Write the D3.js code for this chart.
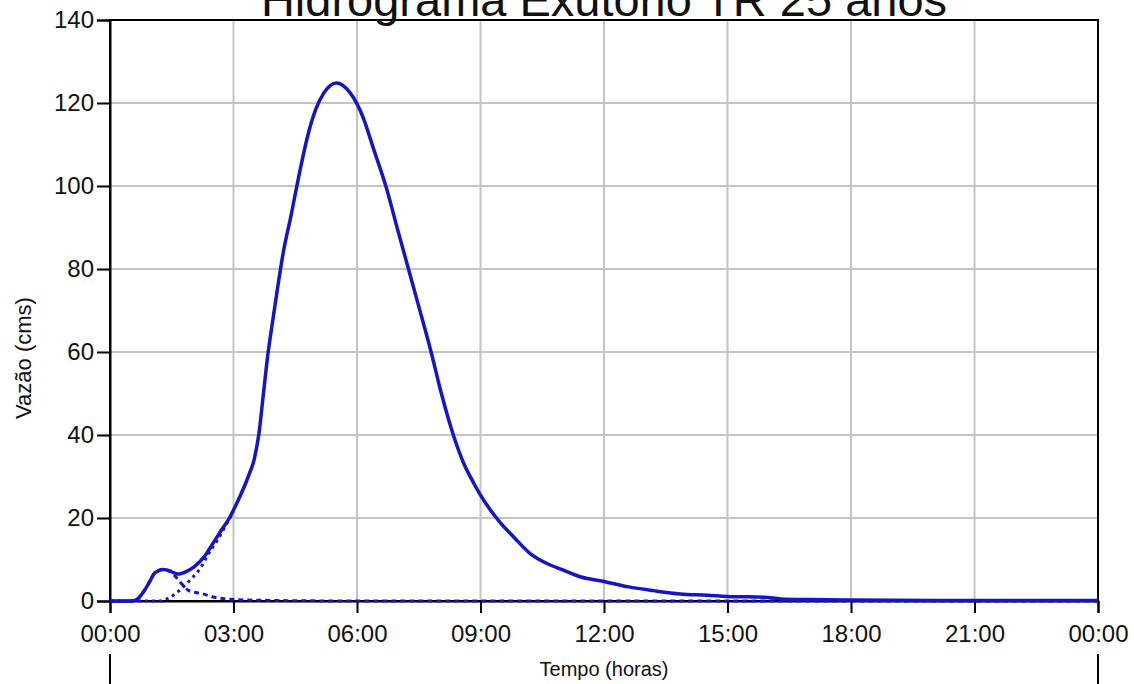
<!DOCTYPE html>
<html>
<head>
<meta charset="utf-8">
<script src="https://cdn.jsdelivr.net/npm/d3@7"></script>
<style>
  html, body { margin: 0; padding: 0; background: #fff; }
  svg { display: block; font-family: "Liberation Sans", Arial, sans-serif; }
</style>
</head>
<body>
<div id="chart"></div>
<script>
// Hidrograma do exutório, TR 25 anos (horas desde 00:00, vazão em cms)
const mainHours = [0, 0.5, 0.64, 0.84, 0.96, 1.08, 1.18, 1.28, 1.38, 1.49, 1.65, 1.85, 2.05, 2.29, 2.54, 2.7, 2.9, 3.1, 3.3, 3.39, 3.5, 3.55, 3.62, 3.71, 3.84, 3.96, 4.08, 4.2, 4.4, 4.6, 4.8, 5.0, 5.2, 5.35, 5.5, 5.65, 5.83, 6.0, 6.15, 6.4, 6.7, 7.0, 7.25, 7.5, 7.8, 8.05, 8.34, 8.6, 8.83, 9.0, 9.25, 9.47, 9.8, 10.2, 10.6, 11.0, 11.4, 12.0, 12.6, 13.2, 13.85, 14.5, 15.0, 15.9, 16.3, 17, 18, 20, 22, 24];
const mainFlow = [0, 0, 0.3, 2.6, 4.6, 6.7, 7.3, 7.6, 7.5, 7.1, 6.5, 7.1, 8.3, 10.7, 14.5, 17, 20, 24, 28.5, 30.8, 34, 36.4, 40.5, 48.4, 59.8, 68, 76, 83.5, 93, 103, 112, 118.5, 122.5, 124.2, 124.8, 124.3, 122.5, 119.8, 116.5, 109, 100, 89, 80, 71, 60, 50, 40, 33, 28.5, 25.5, 21.8, 19, 15.5, 11.5, 9.1, 7.5, 5.9, 4.7, 3.4, 2.5, 1.7, 1.4, 1.1, 0.9, 0.5, 0.35, 0.25, 0.15, 0.12, 0.1];

// sub-bacia de resposta rápida (pequeno pico inicial)
const sub1Hours = [0, 0.5, 0.64, 0.84, 0.96, 1.08, 1.18, 1.28, 1.38, 1.5, 1.6, 1.7, 1.8, 1.9, 2.05, 2.22, 2.54, 2.94, 3.5, 6, 24];
const sub1Flow = [0, 0, 0.3, 2.6, 4.6, 6.7, 7.3, 7.6, 7.4, 6.8, 5.8, 4.6, 3.5, 2.6, 2.1, 1.8, 0.9, 0.4, 0.2, 0, 0];

// sub-bacia principal (trecho inicial, depois coincide com o hidrograma total)
const sub2Hours = [0, 1.2, 1.4, 1.6, 1.8, 2.0, 2.2, 2.4, 2.6, 2.8, 3.0];
const sub2Flow = [0, 0, 0.6, 1.8, 3.6, 5.6, 8, 11.5, 14.5, 18, 21.5];

const xTicks = [0, 3, 6, 9, 12, 15, 18, 21, 24];
const yTicks = [0, 20, 40, 60, 80, 100, 120, 140];

const W = 1134, H = 684;
const margin = { top: 20, right: 36, bottom: 83, left: 110 };
const width = W - margin.left - margin.right;
const height = H - margin.top - margin.bottom;

const svg = d3.select("#chart").append("svg").attr("width", W).attr("height", H);
const g = svg.append("g").attr("transform", `translate(${margin.left},${margin.top})`);

const x = d3.scaleLinear().domain([0, 24]).range([0, width]);
const y = d3.scaleLinear().domain([0, 140]).range([height, 0]);

const fmtHour = (h) => String(h % 24).padStart(2, "0") + ":00";

// grid
g.append("g")
  .selectAll("line")
  .data(xTicks.slice(1, -1))
  .join("line")
  .attr("x1", (d) => x(d)).attr("x2", (d) => x(d))
  .attr("y1", 0).attr("y2", height)
  .attr("stroke", "#c4c4c4").attr("stroke-width", 2);

g.append("g")
  .selectAll("line")
  .data(yTicks.slice(1, -1))
  .join("line")
  .attr("x1", 0).attr("x2", width)
  .attr("y1", (d) => y(d)).attr("y2", (d) => y(d))
  .attr("stroke", "#c4c4c4").attr("stroke-width", 2);

// frame
g.append("rect")
  .attr("width", width).attr("height", height)
  .attr("fill", "none").attr("stroke", "#000").attr("stroke-width", 2);

// axes
const yAxis = g.append("g")
  .call(d3.axisLeft(y).tickValues(yTicks).tickSize(13).tickPadding(3).tickFormat(d3.format("d")));
const xAxis = g.append("g")
  .attr("transform", `translate(0,${height})`)
  .call(d3.axisBottom(x).tickValues(xTicks).tickSize(12).tickPadding(12).tickFormat(fmtHour));

[xAxis, yAxis].forEach((a) => {
  a.select(".domain").attr("stroke", "#000").attr("stroke-width", 2);
  a.selectAll(".tick line").attr("stroke", "#000").attr("stroke-width", 2);
  a.selectAll(".tick text")
    .attr("fill", "#111")
    .attr("font-size", "24px")
    .attr("font-family", "'Liberation Sans', Arial, sans-serif");
});

// series
const line = (hs, vs) =>
  d3.line().x((i) => x(hs[i])).y((i) => y(vs[i])).curve(d3.curveMonotoneX)(d3.range(hs.length));

g.append("path")
  .attr("d", line(sub1Hours, sub1Flow))
  .attr("fill", "none").attr("stroke", "#1616c4").attr("stroke-width", 3)
  .attr("stroke-dasharray", "5,4");

g.append("path")
  .attr("d", line(sub2Hours, sub2Flow))
  .attr("fill", "none").attr("stroke", "#1616c4").attr("stroke-width", 3)
  .attr("stroke-dasharray", "3,4");

g.append("path")
  .attr("d", line(mainHours, mainFlow))
  .attr("fill", "none").attr("stroke", "#1414c8").attr("stroke-width", 3.5)
  .attr("stroke-linejoin", "round");

// title and labels
svg.append("text")
  .attr("x", margin.left + width / 2).attr("y", 16)
  .attr("text-anchor", "middle").attr("font-size", "47px").attr("fill", "#111")
  .text("Hidrograma Exutório TR 25 anos");

svg.append("text")
  .attr("x", margin.left + width / 2).attr("y", 676)
  .attr("text-anchor", "middle").attr("font-size", "20px").attr("fill", "#111")
  .text("Tempo (horas)");

svg.append("text")
  .attr("transform", "translate(31,358) rotate(-90)")
  .attr("text-anchor", "middle").attr("font-size", "22px").attr("fill", "#111")
  .text("Vazão (cms)");

// marcas verticais sob o eixo
[0, 24].forEach((h) => {
  svg.append("line")
    .attr("x1", margin.left + x(h)).attr("x2", margin.left + x(h))
    .attr("y1", 654).attr("y2", H)
    .attr("stroke", "#000").attr("stroke-width", 2);
});
</script>
</body>
</html>
